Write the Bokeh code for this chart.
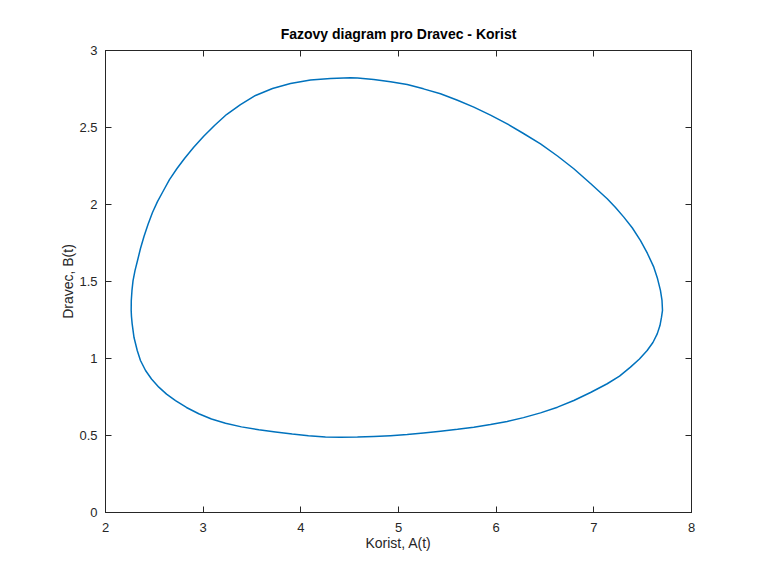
from bokeh.plotting import figure
from bokeh.models import LinearAxis, FixedTicker, Range1d
from bokeh.embed import file_html
from bokeh.resources import INLINE

# Phase trajectory: prey A(t), predator B(t)
prey_A = [2.263, 2.264, 2.271, 2.282, 2.302, 2.328, 2.358, 2.394, 2.435, 2.481,
          2.532, 2.594, 2.655, 2.732, 2.809, 2.901, 3.003, 3.116, 3.239, 3.382,
          3.536, 3.710, 3.894, 4.099, 4.304, 4.508, 4.580, 4.747, 4.918, 5.089,
          5.256, 5.430, 5.604, 5.771, 5.942, 6.113, 6.280, 6.454, 6.628, 6.795,
          6.966, 7.137, 7.222, 7.307, 7.393, 7.478, 7.549, 7.614, 7.652, 7.682,
          7.698, 7.703, 7.693, 7.677, 7.649, 7.605, 7.546, 7.467, 7.375, 7.263,
          7.137, 6.966, 6.795, 6.628, 6.454, 6.280, 6.113, 5.942, 5.771, 5.604,
          5.430, 5.256, 5.089, 4.918, 4.747, 4.580, 4.406, 4.252, 4.078, 3.912,
          3.741, 3.570, 3.392, 3.229, 3.085, 2.955, 2.829, 2.717, 2.625, 2.546,
          2.471, 2.410, 2.358, 2.325, 2.292, 2.273, 2.266, 2.263]
predator_B = [1.312, 1.377, 1.442, 1.506, 1.571, 1.636, 1.714, 1.792, 1.870, 1.948,
              2.019, 2.091, 2.162, 2.234, 2.299, 2.370, 2.442, 2.513, 2.584, 2.649,
              2.708, 2.753, 2.786, 2.808, 2.818, 2.823, 2.821, 2.812, 2.797, 2.779,
              2.751, 2.719, 2.677, 2.632, 2.580, 2.524, 2.461, 2.394, 2.315, 2.232,
              2.136, 2.037, 1.981, 1.918, 1.849, 1.766, 1.682, 1.593, 1.519, 1.442,
              1.377, 1.312, 1.268, 1.214, 1.160, 1.104, 1.052, 0.997, 0.944, 0.886,
              0.836, 0.779, 0.727, 0.684, 0.647, 0.616, 0.591, 0.571, 0.554, 0.540,
              0.528, 0.516, 0.506, 0.499, 0.494, 0.490, 0.489, 0.491, 0.499, 0.509,
              0.523, 0.537, 0.556, 0.580, 0.607, 0.641, 0.682, 0.727, 0.769, 0.814,
              0.867, 0.922, 0.987, 1.052, 1.136, 1.225, 1.273, 1.312]

x_ticks = [2, 3, 4, 5, 6, 7, 8]
y_ticks = [0, 0.5, 1, 1.5, 2, 2.5, 3]
y_tick_labels = ["0", "0.5", "1", "1.5", "2", "2.5", "3"]

FONT = "Liberation Sans"
AX = "#262626"

p = figure(width=758, height=569, output_backend="svg", toolbar_location=None,
           x_range=Range1d(2, 8), y_range=Range1d(0, 3),
           min_border_left=105, min_border_right=67, min_border_top=50,
           min_border_bottom=57, title="Fazovy diagram pro Dravec - Korist")
p.frame_width = 586
p.frame_height = 462

p.title.align = "center"
p.title.text_font = FONT
p.title.text_font_size = "14px"
p.title.text_font_style = "bold"
p.title.text_color = "#000000"
p.title.offset = 0
p.title.standoff = 17

p.grid.visible = False
p.outline_line_color = AX
p.outline_line_width = 1
p.background_fill_color = "white"
p.border_fill_color = "white"

p.line(prey_A, predator_B, line_color="#0072BD", line_width=1.5,
       line_join="round")

for ax, ticks in ((p.xaxis[0], x_ticks), (p.yaxis[0], y_ticks)):
    ax.ticker = FixedTicker(ticks=ticks)
    ax.minor_tick_line_color = None
    ax.major_tick_in = 6
    ax.major_tick_out = 0
    ax.axis_line_color = AX
    ax.major_tick_line_color = AX
    ax.major_label_text_font = FONT
    ax.major_label_text_font_size = "13px"
    ax.major_label_text_color = AX
    ax.axis_label_text_font = FONT
    ax.axis_label_text_font_size = "14px"
    ax.axis_label_text_font_style = "normal"
    ax.axis_label_text_color = AX

p.yaxis[0].major_label_overrides = {t: s for t, s in zip(y_ticks, y_tick_labels)}
p.xaxis[0].axis_label = "Korist, A(t)"
p.yaxis[0].axis_label = "Dravec, B(t)"
p.xaxis[0].major_label_standoff = 10
p.yaxis[0].major_label_standoff = 8
p.xaxis[0].axis_label_standoff = 0
p.yaxis[0].axis_label_standoff = 0

# mirrored ticks on top and right
for loc, ticks in (("above", x_ticks), ("right", y_ticks)):
    a = LinearAxis(ticker=FixedTicker(ticks=ticks))
    a.major_tick_in = 6
    a.major_tick_out = 0
    a.minor_tick_line_color = None
    a.axis_line_color = AX
    a.major_tick_line_color = AX
    a.major_label_text_font_size = "0px"
    a.major_label_text_alpha = 0
    a.major_label_standoff = 0
    p.add_layout(a, loc)

open("out.html", "w").write(file_html(p, INLINE))
